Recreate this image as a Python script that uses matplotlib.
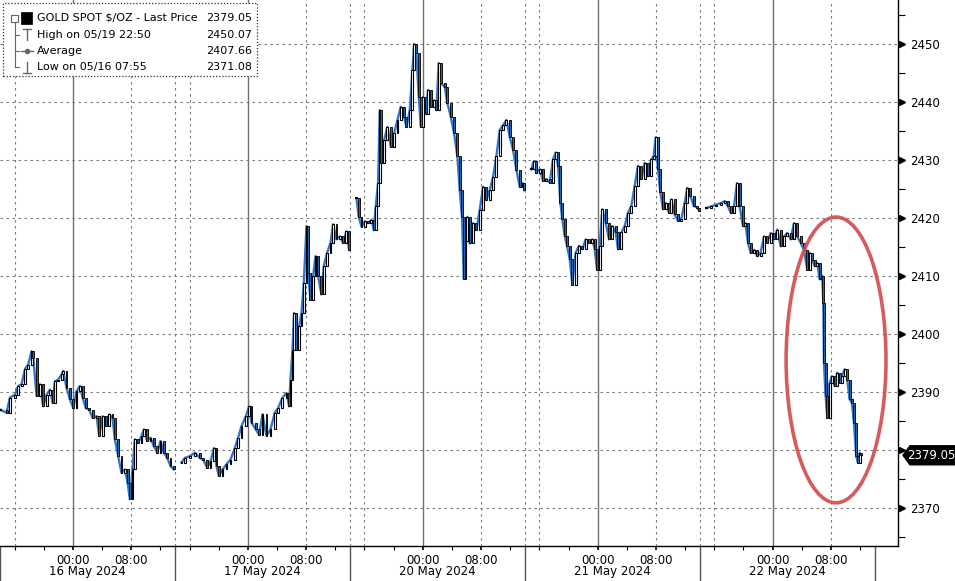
import matplotlib
matplotlib.use("Agg")
import matplotlib.pyplot as plt
from matplotlib.patches import Rectangle, Ellipse, Polygon
from matplotlib.transforms import ScaledTranslation, blended_transform_factory
import numpy as np

plt.rcParams['font.family'] = ['DejaVu Sans']

# ---------------- data ----------------
session_dates = ["16 May 2024", "17 May 2024", "20 May 2024", "21 May 2024", "22 May 2024"]
time_tick_hours = [0, 8]
time_tick_labels = ["00:00", "08:00"]

# hours relative to midnight of each session's date, and closing prices
s1_hours = [-9.95, -9.10, -8.64, -7.95, -7.50, -7.04, -6.58, -6.13, -5.67, -5.44,
            -4.98, -4.53, -4.07, -3.61, -3.15, -2.79, -2.47, -2.01, -1.55, -1.33,
            -0.87, -0.41, 0.05, 0.50, 0.96, 1.33, 1.78, 2.24, 2.70, 3.25,
            3.61, 4.07, 4.53, 4.98, 5.44, 5.76, 6.22, 6.67, 7.13, 7.50,
            7.82, 8.18, 8.50, 8.96, 9.42, 9.74, 10.19, 10.65, 11.11, 11.57,
            12.02, 12.48, 12.94, 13.39, 13.85]
s1_price = [2386.9, 2386.4, 2389.0, 2389.5, 2391.0, 2391.3, 2393.9, 2394.7, 2397.0, 2395.9,
            2389.3, 2391.3, 2387.5, 2389.5, 2390.4, 2388.1, 2391.8, 2392.1, 2393.0, 2393.6,
            2390.7, 2388.7, 2387.2, 2390.1, 2391.0, 2389.0, 2387.2, 2386.9, 2385.5, 2385.8,
            2382.4, 2385.8, 2384.1, 2386.1, 2385.5, 2381.8, 2378.9, 2376.0, 2376.6, 2374.3,
            2371.5, 2376.6, 2381.8, 2381.2, 2382.4, 2383.5, 2381.5, 2382.1, 2380.6, 2379.5,
            2381.5, 2379.5, 2378.6, 2377.2, 2376.6]

s2_hours = [-9.10, -8.64, -7.95, -7.27, -6.58, -6.13, -5.58, -5.12, -4.62, -4.30,
            -3.98, -3.47, -2.93, -2.38, -1.78, -1.33, -0.87, -0.27, 0.18, 0.50,
            1.10, 1.55, 2.01, 2.56, 3.11, 3.70, 4.16, 4.75, 5.30, 5.67,
            5.85, 6.13, 6.35, 6.67, 7.04, 7.36, 7.68, 8.05, 8.27, 8.59,
            8.96, 9.28, 9.65, 10.10, 10.42, 10.88, 11.34, 11.70, 12.16, 12.62,
            13.07, 13.53, 13.90]
s2_price = [2377.8, 2378.6, 2378.9, 2379.5, 2378.6, 2378.3, 2376.9, 2378.0, 2380.3, 2377.2,
            2375.5, 2376.6, 2377.5, 2378.3, 2380.3, 2382.1, 2384.1, 2385.8, 2387.5, 2384.7,
            2383.5, 2382.6, 2386.1, 2382.4, 2383.5, 2386.4, 2387.2, 2389.0, 2389.8, 2387.5,
            2392.1, 2397.3, 2403.6, 2397.3, 2401.3, 2403.6, 2408.8, 2418.6, 2410.5, 2405.9,
            2409.9, 2413.4, 2409.9, 2406.8, 2411.7, 2414.0, 2415.7, 2418.9, 2416.3, 2416.8,
            2415.7, 2417.7, 2414.5]

s3_hours = [-9.10, -8.78, -8.41, -7.95, -7.50, -7.04, -6.72, -6.45, -6.13, -5.90,
            -5.67, -5.30, -4.85, -4.39, -3.93, -3.47, -3.02, -2.56, -2.24, -1.78,
            -1.42, -1.19, -0.87, -0.55, -0.27, 0.05, 0.41, 0.73, 1.10, 1.55,
            1.87, 2.19, 2.56, 3.02, 3.38, 3.84, 4.30, 4.75, 5.07, 5.39,
            5.62, 5.85, 6.13, 6.45, 6.90, 7.36, 7.82, 8.27, 8.73, 9.19,
            9.65, 10.10, 10.56, 11.02, 11.47, 11.93, 12.39, 12.85, 13.30, 13.76,
            13.95]
s3_price = [2423.4, 2420.2, 2418.5, 2419.4, 2419.1, 2419.7, 2417.9, 2422.0, 2426.0, 2438.6,
            2429.4, 2433.4, 2435.7, 2432.3, 2434.6, 2436.9, 2439.2, 2437.5, 2435.7, 2438.6,
            2445.5, 2450.0, 2448.4, 2440.9, 2435.7, 2440.9, 2438.0, 2442.1, 2439.2, 2440.3,
            2438.6, 2446.7, 2443.2, 2442.6, 2439.8, 2437.5, 2434.6, 2430.6, 2424.8, 2420.2,
            2409.5, 2416.0, 2420.2, 2415.6, 2419.1, 2417.9, 2421.4, 2425.4, 2423.1, 2424.8,
            2427.1, 2430.6, 2435.2, 2436.0, 2436.9, 2434.0, 2431.7, 2428.3, 2425.4, 2426.0,
            2424.8]

s4_hours = [-9.10, -8.78, -8.41, -7.95, -7.50, -7.04, -6.58, -6.13, -5.76, -5.44,
            -5.12, -4.85, -4.53, -4.21, -3.84, -3.47, -3.02, -2.56, -2.10, -1.65,
            -1.19, -0.73, -0.41, -0.09, 0.27, 0.64, 1.10, 1.55, 2.01, 2.47,
            2.79, 3.25, 3.70, 4.16, 4.62, 5.07, 5.53, 5.99, 6.45, 6.90,
            7.36, 7.68, 7.95, 8.27, 8.59, 8.96, 9.33, 9.78, 10.10, 10.56,
            11.02, 11.47, 11.93, 12.30, 12.71, 13.17, 13.62, 13.95]
s4_price = [2428.4, 2429.8, 2427.8, 2428.4, 2426.4, 2426.7, 2426.1, 2430.1, 2431.3, 2429.0,
            2422.6, 2419.8, 2416.9, 2415.2, 2412.9, 2408.5, 2414.0, 2415.2, 2414.6, 2416.3,
            2415.7, 2416.3, 2414.6, 2411.1, 2415.2, 2421.5, 2419.2, 2416.3, 2418.6, 2417.5,
            2414.6, 2417.5, 2418.6, 2420.9, 2422.1, 2425.5, 2429.0, 2426.7, 2429.5, 2427.2,
            2430.1, 2430.7, 2433.9, 2428.4, 2424.4, 2421.5, 2422.6, 2420.9, 2423.2, 2420.6,
            2419.5, 2419.8, 2422.6, 2425.2, 2423.8, 2422.1, 2421.8, 2421.2]

s5_hours = [-9.10, -8.41, -7.73, -7.04, -6.58, -6.13, -5.76, -5.30, -4.89, -4.53,
            -4.07, -3.75, -3.38, -3.02, -2.56, -2.10, -1.65, -1.19, -0.73, -0.27,
            0.18, 0.64, 1.10, 1.55, 2.01, 2.47, 2.93, 3.38, 3.84, 4.30,
            4.75, 5.07, 5.39, 5.76, 6.13, 6.45, 6.81, 6.95, 7.04, 7.27,
            7.50, 7.82, 8.14, 8.50, 8.87, 9.19, 9.51, 9.87, 10.24, 10.56,
            10.88, 11.15, 11.47, 11.70, 11.93, 12.16]
s5_price = [2421.7, 2422.0, 2422.3, 2422.6, 2422.9, 2422.0, 2420.9, 2422.0, 2426.0, 2422.0,
            2418.6, 2419.1, 2415.7, 2414.0, 2414.5, 2413.4, 2414.0, 2416.8, 2415.7, 2417.4,
            2416.3, 2418.0, 2415.1, 2416.8, 2417.4, 2416.3, 2419.1, 2416.8, 2415.7, 2414.5,
            2411.1, 2414.0, 2412.8, 2411.7, 2412.2, 2409.4, 2410.0, 2405.3, 2395.0, 2389.3,
            2385.5, 2391.6, 2392.7, 2391.0, 2393.3, 2391.6, 2392.7, 2393.9, 2392.1, 2388.7,
            2388.1, 2384.7, 2378.9, 2377.8, 2379.5, 2379.05]

session_hours = [s1_hours, s2_hours, s3_hours, s4_hours, s5_hours]
session_prices = [s1_price, s2_price, s3_price, s4_price, s5_price]

y_ticks = [2370, 2380, 2390, 2400, 2410, 2420, 2430, 2440, 2450]
y_tick_labels = ["2370", "", "2390", "2400", "2410", "2420", "2430", "2440", "2450"]  # 2380 hidden by price tag
last_price = 2379.05
legend_labels = ["GOLD SPOT $/OZ - Last Price", "High on 05/19 22:50", "Average", "Low on 05/16 07:55"]
legend_values = ["2379.05", "2450.07", "2407.66", "2371.08"]

# ---------------- layout ----------------
W, H = 955, 581
fig = plt.figure(figsize=(W / 100, H / 100), dpi=100)
ax_right_px, ax_bottom_px = 898, 546
ax = fig.add_axes([0, 1 - ax_bottom_px / H, ax_right_px / W, ax_bottom_px / H])

SESSION = 24.0
START = -10.0           # session start relative to midnight
x_min = START
x_max = START + len(session_dates) * SESSION + 3.2
y_min, y_max = 2363.4, 2457.6
ax.set_xlim(x_min, x_max)
ax.set_ylim(y_min, y_max)

LINE_BLUE = '#3276c8'

for k, (hrs, prc) in enumerate(zip(session_hours, session_prices)):
    t = np.array(hrs) + SESSION * k
    c = np.array(prc)
    ax.plot(t, c, color=LINE_BLUE, lw=1.7, zorder=3, solid_joinstyle='round')
    o = np.concatenate([[c[0]], c[:-1]])
    up = c >= o
    body_h = np.where(np.abs(c - o) < 0.15, 0.15, c - o)
    ax.bar(t[up], body_h[up], bottom=o[up], width=0.26, color='white',
           edgecolor='black', linewidth=0.8, zorder=4)
    ax.bar(t[~up], body_h[~up], bottom=o[~up], width=0.26, color='#2b63b4',
           edgecolor='#111111', linewidth=0.7, zorder=4)

# grid lines
grid_kw = dict(color='#7a7a7a', lw=0.8, ls=(0, (2.2, 3.2)), zorder=1)
for v in y_ticks:
    ax.axhline(v, **grid_kw)
for k in range(len(session_dates)):
    base = SESSION * k
    if k > 0:
        ax.axvline(base + START, **grid_kw)
    ax.axvline(base - 8, **grid_kw)
    ax.axvline(base + 8, **grid_kw)
    ax.axvline(base, color='#707070', lw=1.0, zorder=1)

# spines
for s in ['left', 'top']:
    ax.spines[s].set_visible(False)
ax.spines['right'].set_linewidth(1.0)
ax.spines['bottom'].set_linewidth(1.0)

# y axis on right
ax.yaxis.tick_right()
ax.set_yticks(y_ticks)
ax.set_yticklabels(y_tick_labels)
ax.set_yticks(np.arange(2365, 2460, 10), minor=True)
ax.tick_params(axis='y', which='major', length=0, pad=9, labelsize=8.5)
ax.tick_params(axis='y', which='minor', direction='out', length=5, width=0.8)
tri_trans = ax.get_yaxis_transform() + ScaledTranslation(4 / 100, 0, fig.dpi_scale_trans)
ax.plot([1] * len(y_ticks), y_ticks, ls='none', marker='>', ms=5, color='black',
        transform=tri_trans, clip_on=False, zorder=6)

# x axis ticks
major_x = [SESSION * k + h for k in range(len(session_dates)) for h in time_tick_hours]
ax.set_xticks(major_x)
ax.set_xticklabels(time_tick_labels * len(session_dates))
minor_x = [SESSION * k + h for k in range(len(session_dates)) for h in (-8, -4, 4, 12)]
ax.set_xticks(minor_x, minor=True)
ax.tick_params(axis='x', which='major', direction='out', length=3, width=1.2, pad=2.5, labelsize=8.5)
ax.tick_params(axis='x', which='minor', direction='out', length=3, width=0.8)

bt = blended_transform_factory(ax.transData, ax.transAxes)
for k, d in enumerate(session_dates):
    ax.text(SESSION * k + START + SESSION / 2, -0.0476, d, transform=bt,
            ha='center', va='center', fontsize=8.5)
    xb = SESSION * k + START
    ax.plot([xb, xb], [0, -0.07], transform=bt, color='#555555', lw=1.0, clip_on=False)
ax.plot([SESSION * 5 + START] * 2, [0, -0.07], transform=bt, color='#555555', lw=1.0, clip_on=False)

# red ellipse highlighting the drop
ell = Ellipse((104.7, 2395.5), 13.7, 49.3, fill=False, edgecolor='#d24a4a', lw=2.6,
              alpha=0.9, zorder=7)
ax.add_patch(ell)

# ---------------- figure-level decorations ----------------
def fx(px):
    return px / W

def fy(py):
    return 1 - py / H

# last price tag
tag_y = fy(ax_bottom_px - (last_price - y_min) / (y_max - y_min) * ax_bottom_px)
th = 9.5 / H
tag = Polygon([[fx(903), tag_y], [fx(910), tag_y + th], [fx(955), tag_y + th],
               [fx(955), tag_y - th], [fx(910), tag_y - th]],
              closed=True, transform=fig.transFigure, facecolor='black', edgecolor='black', zorder=10)
fig.patches.append(tag)
fig.text(fx(931.5), tag_y, f"{last_price:.2f}", color='white', fontsize=8.5,
         ha='center', va='center', zorder=11)

# legend box
fig.patches.append(Rectangle((fx(3), fy(76)), fx(254), 73 / H, transform=fig.transFigure,
                             facecolor='white', edgecolor='#333333', lw=0.9, ls=(0, (1, 1.5)), zorder=8))
rows_y = [18, 35, 51, 67]
for i, (lab, val) in enumerate(zip(legend_labels, legend_values)):
    fig.text(fx(37), fy(rows_y[i]), lab, fontsize=8, ha='left', va='center', zorder=9)
    fig.text(fx(252), fy(rows_y[i]), val, fontsize=8, ha='right', va='center', zorder=9)

gray = '#666666'
def fline(xs, ys, **kw):
    fig.add_artist(plt.Line2D([fx(x) for x in xs], [fy(y) for y in ys],
                              transform=fig.transFigure, zorder=9, **kw))

# tree icon
fig.patches.append(Rectangle((fx(11), fy(22)), 7 / W, 7 / H, transform=fig.transFigure,
                             facecolor='white', edgecolor=gray, lw=0.8, zorder=9))
fline([12.5, 16.5], [18.5, 18.5], color=gray, lw=0.8)
fline([14.5, 14.5], [22, 67], color=gray, lw=0.8)
for yy in rows_y[1:]:
    fline([14.5, 19], [yy, yy], color=gray, lw=0.8)
fig.patches.append(Rectangle((fx(21), fy(24)), 11 / W, 12 / H, transform=fig.transFigure,
                             facecolor='black', edgecolor='black', lw=0.5, zorder=9))
# high icon
fline([23, 31], [29, 29], color=gray, lw=1.0)
fline([27, 27], [29, 40], color=gray, lw=1.0)
# average icon
fline([21, 33], [51, 51], color=gray, lw=1.0)
fig.add_artist(plt.Line2D([fx(27)], [fy(51)], marker='o', ms=3, color=gray,
                          transform=fig.transFigure, zorder=9))
# low icon
fline([23, 31], [73, 73], color=gray, lw=1.0)
fline([27, 27], [62, 73], color=gray, lw=1.0)

fig.savefig("out.png", dpi=100, facecolor='white')
